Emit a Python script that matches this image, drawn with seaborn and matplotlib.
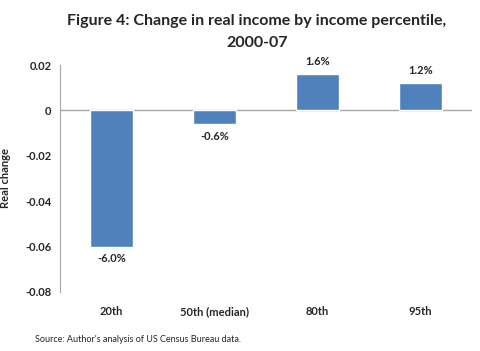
import seaborn as sns
import matplotlib.pyplot as plt
import pandas as pd

percentiles = ["20th", "50th (median)", "80th", "95th"]
real_change = [-0.060, -0.006, 0.016, 0.012]
labels = ["-6.0%", "-0.6%", "1.6%", "1.2%"]

df = pd.DataFrame({"Percentile": percentiles, "Real change": real_change})

sns.set_style("white")
plt.rcParams["font.family"] = ["Lato", "DejaVu Sans"]

fig = plt.figure(figsize=(4.8, 3.51), dpi=100)
ax = fig.add_axes([60 / 480, 1 - 292 / 351, 412 / 480, 227 / 351])

sns.barplot(data=df, x="Percentile", y="Real change", color="#4F81BD",
            width=0.42, saturation=1, ax=ax)

ax.set_ylim(-0.08, 0.02)
ax.set_yticks([0.02, 0, -0.02, -0.04, -0.06, -0.08])
ax.set_yticklabels(["0.02", "0", "-0.02", "-0.04", "-0.06", "-0.08"],
                   fontsize=8, fontweight="bold")
ax.set_xlim(-0.5, 3.5)
ax.axhline(0, color="#A6A6A6", lw=1, zorder=0)
for s in ["top", "right", "bottom"]:
    ax.spines[s].set_visible(False)
ax.spines["left"].set_color("#A6A6A6")
ax.tick_params(axis="y", length=0, pad=6)
ax.tick_params(axis="x", length=0, pad=10)
ax.set_xticks(range(len(percentiles)))
ax.set_xticklabels(percentiles, fontsize=8, fontweight="bold")
ax.set_xlabel("")
ax.set_ylabel("Real change", fontsize=8, fontweight="bold")
ax.yaxis.set_label_coords(-0.12, 0.5)

for i, (v, t) in enumerate(zip(real_change, labels)):
    off = 0.003 if v > 0 else -0.003
    ax.text(i, v + off, t, ha="center", va="bottom" if v > 0 else "top",
            fontsize=8, fontweight="bold")

fig.text(0.535, 0.96, "Figure 4: Change in real income by income percentile,\n2000-07",
         ha="center", va="top", fontsize=11.5, fontweight="bold", linespacing=1.75)
fig.text(35 / 480, 1 - 340 / 351, "Source: Author's analysis of US Census Bureau data.",
         ha="left", va="center", fontsize=6.5)

fig.savefig("out.png", dpi=100)
